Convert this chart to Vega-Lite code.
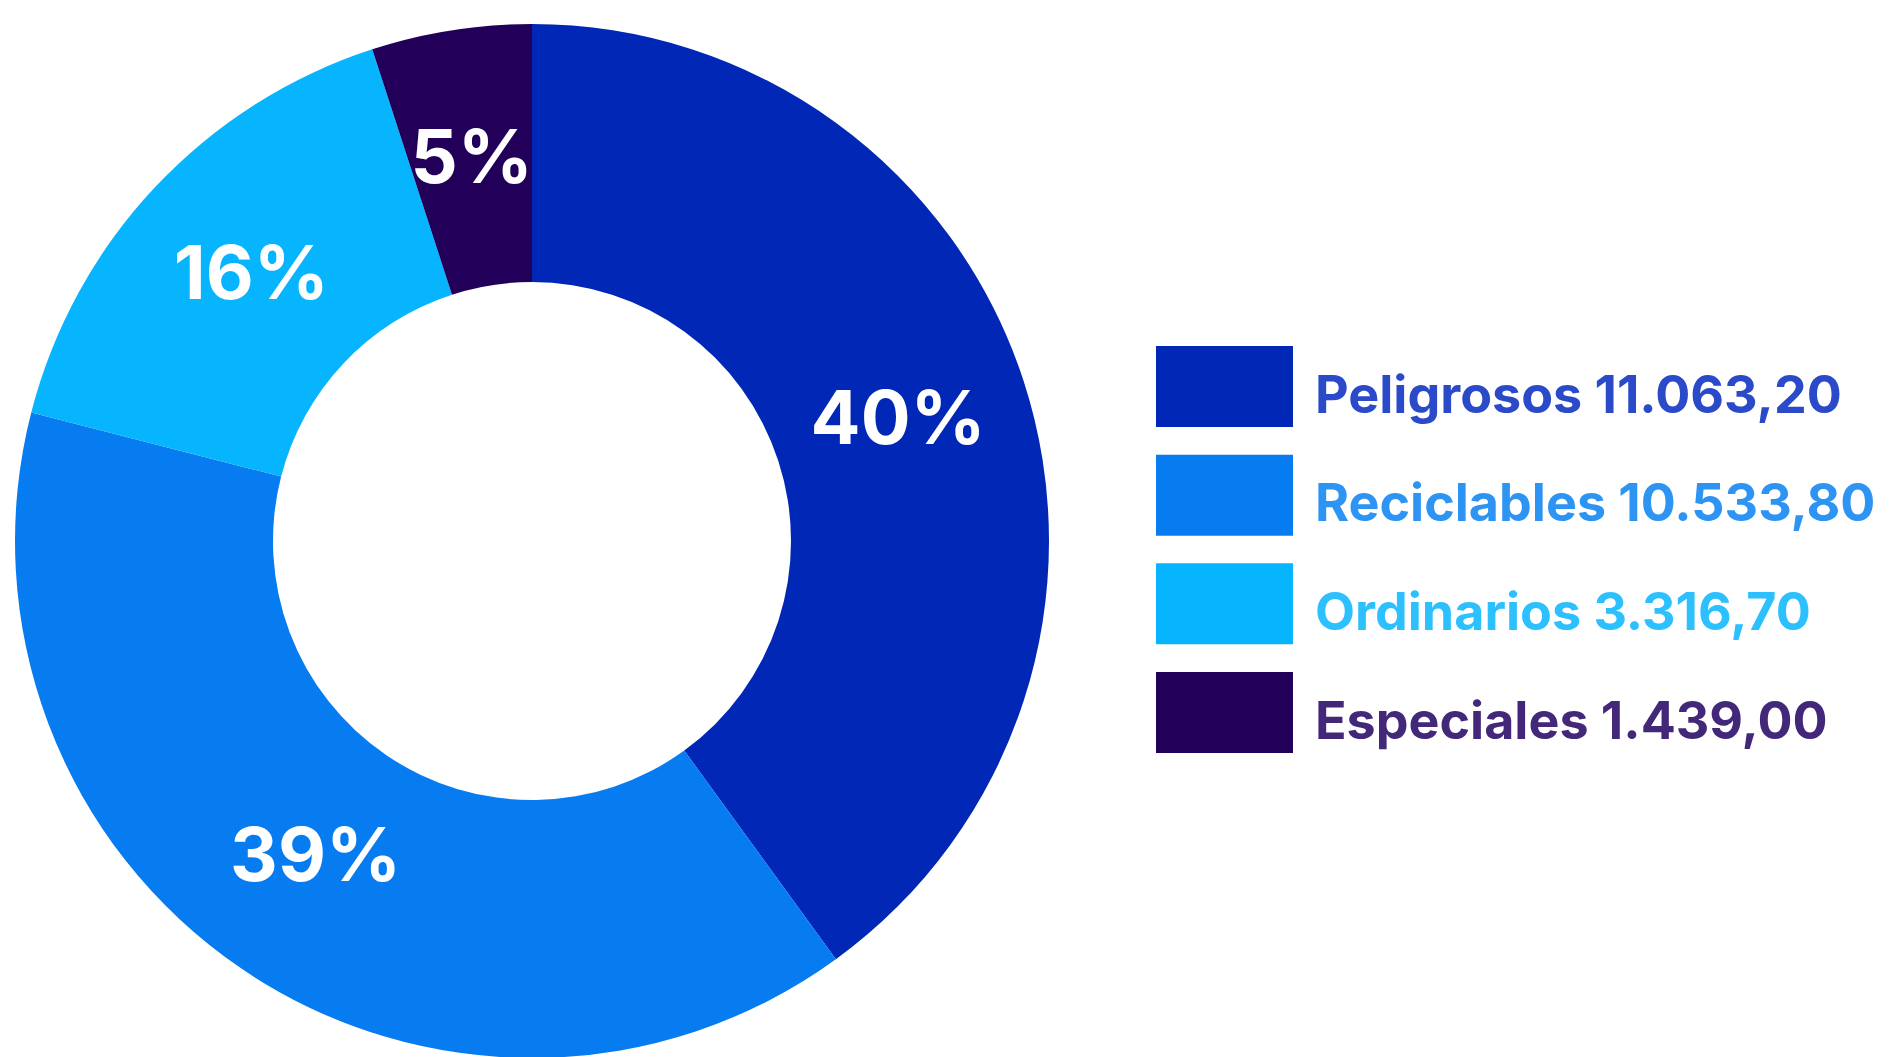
{
  "$schema": "https://vega.github.io/schema/vega-lite/v6.json",
  "width": 1064,
  "height": 1022,
  "autosize": {"type": "none"},
  "padding": {"left": 0, "top": 30, "right": 833, "bottom": 5},
  "background": "white",
  "config": {"view": {"stroke": null}},
  "data": {
    "values": [
      {"tipo": "Peligrosos", "leyenda": "Peligrosos 11.063,20", "toneladas": 11063.2, "porcentaje": 40, "texto": "40%"},
      {"tipo": "Reciclables", "leyenda": "Reciclables 10.533,80", "toneladas": 10533.8, "porcentaje": 39, "texto": "39%"},
      {"tipo": "Ordinarios", "leyenda": "Ordinarios 3.316,70", "toneladas": 3316.7, "porcentaje": 16, "texto": "16%"},
      {"tipo": "Especiales", "leyenda": "Especiales 1.439,00", "toneladas": 1439.0, "porcentaje": 5, "texto": "5%"}
    ]
  },
  "layer": [
    {
      "mark": {"type": "arc", "outerRadius": 517, "innerRadius": 259},
      "encoding": {
        "theta": {"field": "porcentaje", "type": "quantitative", "stack": true},
        "order": {"field": "porcentaje", "type": "quantitative", "sort": "descending"},
        "color": {
          "field": "leyenda",
          "type": "nominal",
          "scale": {
            "domain": ["Peligrosos 11.063,20", "Reciclables 10.533,80", "Ordinarios 3.316,70", "Especiales 1.439,00"],
            "range": ["#0027B5", "#077CF1", "#07B4FE", "#22005A"]
          },
          "legend": {
            "title": null,
            "orient": "none",
            "legendX": 1156,
            "legendY": 316,
            "padding": 0,
            "symbolType": "M-1.691,-1L1.691,-1L1.691,1L-1.691,1Z",
            "symbolSize": 6561,
            "symbolStrokeWidth": 0,
            "symbolOpacity": 1,
            "symbolOffset": 28,
            "labelOffset": 50,
            "labelFont": "Inter",
            "labelFontSize": 52,
            "labelFontWeight": 700,
            "labelLimit": 0,
            "rowPadding": 27.67,
            "encode": {
              "labels": {
                "update": {
                  "fill": {"signal": "indexof(datum.value, 'Peligrosos') === 0 ? '#2A4AC9' : indexof(datum.value, 'Reciclables') === 0 ? '#2E94F4' : indexof(datum.value, 'Ordinarios') === 0 ? '#2CC0FE' : '#43287A'"},
                  "dy": {"value": 10}
                }
              }
            }
          }
        }
      }
    },
    {
      "mark": {"type": "text", "radius": 385, "fill": "white", "font": "Inter", "fontSize": 74, "fontWeight": 700},
      "encoding": {
        "theta": {"field": "porcentaje", "type": "quantitative", "stack": true},
        "order": {"field": "porcentaje", "type": "quantitative", "sort": "descending"},
        "detail": {"field": "leyenda", "type": "nominal"},
        "text": {"field": "texto", "type": "nominal"}
      }
    }
  ]
}
